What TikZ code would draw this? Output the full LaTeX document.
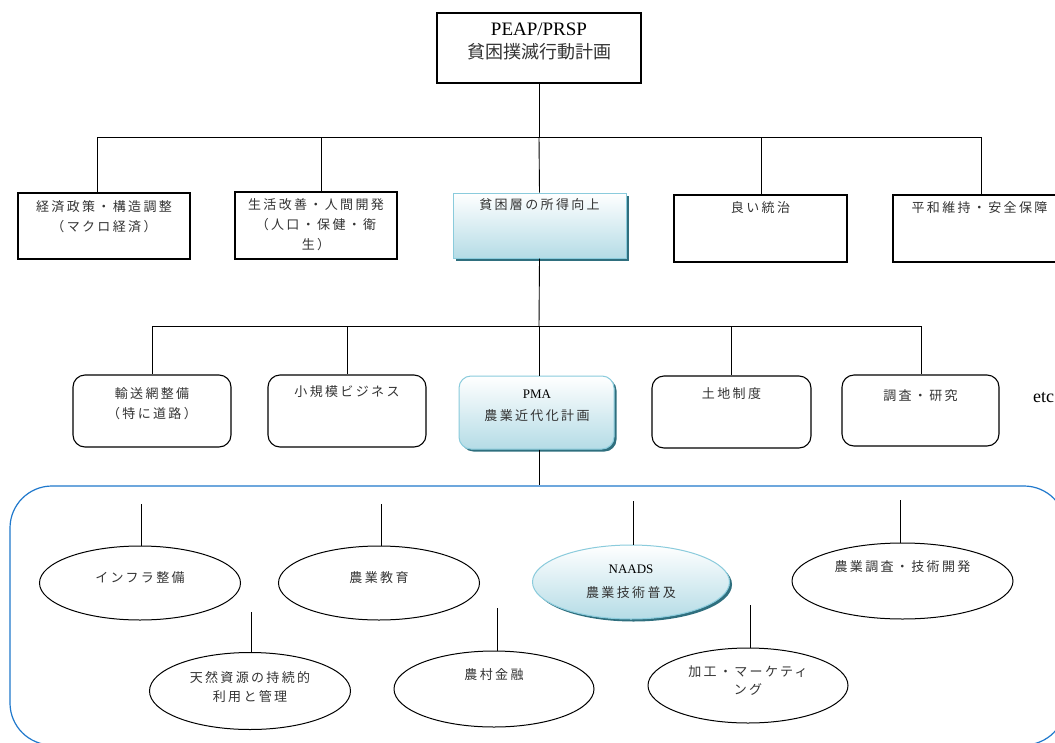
\documentclass[tikz,border=0pt]{standalone}
\usepackage{fontspec}
\setmainfont{Liberation Serif}
\newfontfamily\jp{Noto Sans CJK JP}[LetterSpace=18]
\newfontfamily\jpt{Noto Sans CJK JP}
\usetikzlibrary{shadows,shapes.geometric}
\definecolor{lineblue}{HTML}{1F78CC}
\definecolor{gradbot}{HTML}{B5DCE6}
\definecolor{gradedge}{HTML}{8ACBDC}
\definecolor{shadowc}{HTML}{2F6F7E}
\definecolor{txtc}{HTML}{333333}
\tikzset{
  conn/.style={draw=black, line width=0.9pt},
  sqbox/.style={draw=black, line width=1.1pt, fill=white, inner sep=0pt},
  rbox/.style={sqbox, rounded corners=12pt},
  ebox/.style={ellipse, draw=black, line width=1pt, fill=white, inner sep=0pt},
  gfill/.style={draw=gradedge, line width=1pt, top color=white, bottom color=gradbot,
    drop shadow={shadow xshift=2.5pt, shadow yshift=-2.5pt, fill=shadowc, opacity=1}},
  jt/.style={font=\jp\fontsize{13}{20}\selectfont, text=txtc, align=center, inner sep=0pt},
  lt/.style={font=\fontsize{13}{20}\selectfont, text=black, inner sep=0pt},
}
\begin{document}
\begin{tikzpicture}[x=1pt,y=-1pt]
\useasboundingbox (0,0) rectangle (1055,742);
\clip (0,0) rectangle (1055,742);
\fill[white] (0,0) rectangle (1055,742);

% top
\node[sqbox, minimum width=204pt, minimum height=70pt] (T) at (539,48) {};
\node[inner sep=0pt, font=\fontsize{19}{20}\selectfont] (Ta) at (539,29) {PEAP/PRSP};
\node[inner sep=0pt, font=\jpt\fontsize{18}{20}\selectfont, text=txtc] (Tb) at (539,52) {貧困撲滅行動計画};

% level 2
\coordinate (j1) at (539,137);
\node[sqbox, minimum width=172pt, minimum height=66pt] (b1) at (104,226) {};
\node[sqbox, minimum width=162pt, minimum height=67pt] (b2) at (316,225.5) {};
\node[sqbox, gfill, minimum width=173pt, minimum height=65pt] (b3) at (539.5,225.5) {};
\node[sqbox, minimum width=173pt, minimum height=67pt] (b4) at (760.5,228.5) {};
\node[sqbox, minimum width=173pt, minimum height=67pt] (b5) at (979.5,228.5) {};
\coordinate (d1) at (97,137);
\coordinate (d2) at (321,137);
\coordinate (d4) at (761,137);
\coordinate (d5) at (981,137);
\draw[conn] (T.south) -- (j1);
\draw[conn] (d1) -- (d5);
\draw[conn] (d1) -- (d1 |- b1.north);
\draw[conn] (d2) -- (d2 |- b2.north);
\draw[conn] (j1) -- (b3.north);
\draw[conn] (d4) -- (d4 |- b4.north);
\draw[conn] (d5) -- (d5 |- b5.north);

\node[jt] (tb1) at (104,217) {経済政策・構造調整\\（マクロ経済）};
\node[jt] (tb2) at (316,225) {生活改善・人間開発\\（人口・保健・衛\\生）};
\node[jt] (tb3) at (539.5,205) {貧困層の所得向上};
\node[jt] (tb4) at (760.5,208) {良い統治};
\node[jt] (tb5) at (979.5,208) {平和維持・安全保障};

% level 3
\coordinate (j2) at (539,326);
\draw[conn] (b3.south) -- (j2);
\node[rbox, minimum width=158pt, minimum height=72pt] (c1) at (152,411) {};
\node[rbox, minimum width=158pt, minimum height=72pt] (c2) at (347,411) {};
\node[rbox, gfill, minimum width=155pt, minimum height=73pt] (c3) at (536.5,412.5) {};
\node[rbox, minimum width=159pt, minimum height=72pt] (c4) at (731.5,412) {};
\node[rbox, minimum width=157pt, minimum height=71pt] (c5) at (920.5,410.5) {};
\coordinate (k1) at (152,326);
\coordinate (k5) at (921,326);
\draw[conn] (k1) -- (k5);
\draw[conn] (k1) -- (c1.north);
\draw[conn] (c2.north |- k1) -- (c2.north);
\draw[conn] (j2) -- (j2 |- c3.north);
\draw[conn] (c4.north |- k1) -- (c4.north);
\draw[conn] (k5) -- (k5 |- c5.north);

\node[jt] (tc1) at (152,403.5) {輸送網整備\\（特に道路）};
\node[jt] (tc2) at (347,392) {小規模ビジネス};
\node[lt] (tc3a) at (537,394) {PMA};
\node[jt] (tc3b) at (537,416) {農業近代化計画};
\node[jt] (tc4) at (731.5,394) {土地制度};
\node[jt] (tc5) at (920.5,396) {調査・研究};
\node[inner sep=0pt, anchor=west, font=\fontsize{18}{20}\selectfont] (etc) at (1033,398) {etc};

% panel
\node[draw=lineblue, line width=1.2pt, rounded corners=42pt, minimum width=1056pt, minimum height=259pt, inner sep=0pt] (panel) at (538,615.5) {};
\draw[conn] (c3.south -| j2) -- (j2 |- panel.north);

% ellipses
\node[ebox, minimum width=201pt, minimum height=74pt] (e1) at (140,583) {};
\node[ebox, minimum width=201pt, minimum height=74pt] (e2) at (379,583) {};
\node[ebox, gfill, minimum width=197pt, minimum height=74pt] (e3) at (631,582) {};
\node[ebox, minimum width=221pt, minimum height=76pt] (e4) at (902.5,581) {};
\node[ebox, minimum width=201pt, minimum height=77pt] (e5) at (250,691) {};
\node[ebox, minimum width=200pt, minimum height=76pt] (e6) at (494,689) {};
\node[ebox, minimum width=200pt, minimum height=75pt] (e7) at (748,685.5) {};

\coordinate (f1) at (141,504);
\coordinate (f2) at (381,504);
\coordinate (f3) at (633,501);
\coordinate (f4) at (900,500);
\coordinate (f5) at (251,612);
\coordinate (f6) at (497,608);
\coordinate (f7) at (750,605);
\draw[conn] (f1) -- (f1 |- e1.north);
\draw[conn] (f2) -- (f2 |- e2.north);
\draw[conn] (f3) -- (f3 |- e3.north);
\draw[conn] (f4) -- (f4 |- e4.north);
\draw[conn] (f5) -- (f5 |- e5.north);
\draw[conn] (f6) -- (f6 |- e6.north);
\draw[conn] (f7) -- (f7 |- e7.north);

\node[jt] (te1) at (140,578) {インフラ整備};
\node[jt] (te2) at (379,578) {農業教育};
\node[lt] (te3a) at (631,569) {NAADS};
\node[jt] (te3b) at (631,593) {農業技術普及};
\node[jt] (te4) at (902.5,567) {農業調査・技術開発};
\node[jt, font=\jp\fontsize{13}{19}\selectfont] (te5) at (250,687.5) {天然資源の持続的\\利用と管理};
\node[jt] (te6) at (494,675) {農村金融};
\node[jt, font=\jp\fontsize{13}{18}\selectfont] (te7) at (748,681) {加工・マーケティ\\ング};
\end{tikzpicture}
\end{document}
